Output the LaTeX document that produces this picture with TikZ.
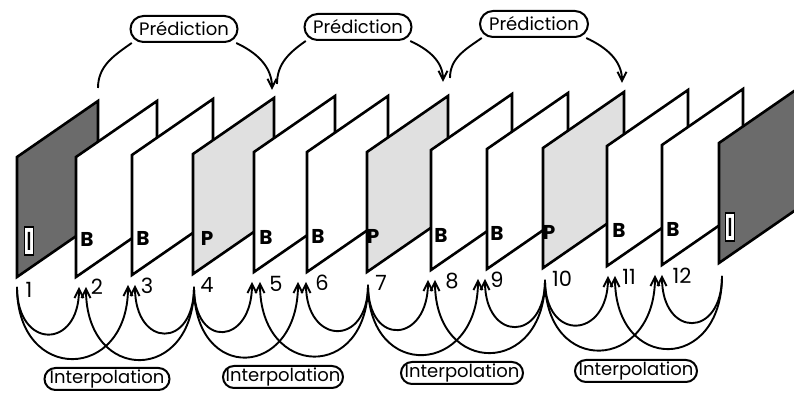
\documentclass[tikz,border=0pt]{standalone}
\usepackage{fontspec}
\setmainfont{Poppins}
\usetikzlibrary{arrows.meta}
\definecolor{iframe}{gray}{0.42}
\definecolor{pframe}{gray}{0.88}
\tikzset{
  frame/.style={draw=black, line width=1.3pt, line join=miter},
  pill/.style={draw, line width=1pt, inner sep=0pt, font=\fontsize{9}{10}\selectfont},
  arc/.style={line width=0.95pt},
  arr/.style={arc, -{Straight Barb[length=4.5pt,width=4.5pt]}},
  lab/.style={font=\bfseries\fontsize{10}{11}\selectfont, inner sep=0pt},
  ibox/.style={draw, fill=white, line width=0.6pt, inner xsep=0.8pt, inner ysep=0pt, minimum height=14pt, font=\fontsize{13}{13}\selectfont},
  num/.style={font=\fontsize{10.5}{11}\selectfont, inner sep=0pt},
}
\begin{document}
\begin{tikzpicture}[x=0.5pt,y=0.5pt]
\useasboundingbox (0,0) rectangle (794,394);
\clip (0,0) rectangle (794,394);
% frames, back to front
\foreach \x/\b/\c in {17/117/iframe, 76/117/white, 132/119/white, 193/120/pframe,
  254/122/white, 307/122/white, 367/122/pframe, 431/124/white, 487/125/white,
  543/126/pframe, 607/128/white, 662/129/white, 719/131/iframe}
  \filldraw[frame, fill=\c] (\x,\b) -- (\x,\b+120) -- (\x+81,\b+176) -- (\x+81,\b+56) -- cycle;
% frame labels
\node[ibox] (l1) at (29,153) {I};
\node[lab] (l2) at (87,155) {B};
\node[lab] (l3) at (143,156) {B};
\node[lab] (l4) at (207,156) {P};
\node[lab] (l5) at (266,157) {B};
\node[lab] (l6) at (318,158) {B};
\node[lab] (l7) at (373,158) {P};
\node[lab] (l8) at (441,159) {B};
\node[lab] (l9) at (497,161) {B};
\node[lab] (l10) at (549,162) {P};
\node[lab] (l11) at (619,164) {B};
\node[lab] (l12) at (673,165) {B};
\node[ibox] (l13) at (730,167) {I};
% numbers
\node[num] (n1) at (29,104) {1};
\node[num] (n2) at (97,107) {2};
\node[num] (n3) at (147,108) {3};
\node[num] (n4) at (207,109) {4};
\node[num] (n5) at (276,110) {5};
\node[num] (n6) at (322,111) {6};
\node[num] (n7) at (381,111) {7};
\node[num] (n8) at (452,113) {8};
\node[num] (n9) at (497,114) {9};
\node[num] (n10) at (562,115) {10};
\node[num] (n11) at (629,117) {11};
\node[num] (n12) at (682,118) {12};
% interpolation anchors and arrow tips
\coordinate (a1) at (17,107);
\coordinate (a4) at (194,107);
\coordinate (a7) at (368,109);
\coordinate (a10) at (545,114);
\coordinate (a13) at (722,118);
\coordinate (t2l) at (79,107);  \coordinate (t2r) at (86,107);
\coordinate (t3l) at (128,109); \coordinate (t3r) at (135,109);
\coordinate (t5l) at (252,112); \coordinate (t5r) at (260,112);
\coordinate (t6l) at (298,112); \coordinate (t6r) at (306,112);
\coordinate (t8l) at (428,114); \coordinate (t8r) at (435,114);
\coordinate (t9l) at (478,115); \coordinate (t9r) at (485,115);
\coordinate (t11l) at (608,118); \coordinate (t11r) at (615,118);
\coordinate (t12l) at (655,119); \coordinate (t12r) at (662,119);
\foreach \s/\e/\d in {a1/t2l/63, a1/t3l/97, a4/t3r/63, a4/t2r/97, a4/t5l/63, a4/t6l/97,
  a7/t6r/63, a7/t5r/97, a7/t8l/63, a7/t9l/97, a10/t9r/63, a10/t8r/97,
  a10/t11l/63, a10/t12l/97, a13/t12r/63, a13/t11r/97}
  \draw[arr] (\s) .. controls +(0,-\d) and +(0,-\d) .. (\e);
% interpolation labels
\node[pill, rounded corners=5.5pt, minimum width=62.5pt, minimum height=11pt] (i1) at (107,15) {Interpolation};
\node[pill, rounded corners=5.5pt, minimum width=60pt, minimum height=11pt] (i2) at (283,17) {Interpolation};
\node[pill, rounded corners=5.5pt, minimum width=61pt, minimum height=11pt] (i3) at (462,21) {Interpolation};
\node[pill, rounded corners=5.5pt, minimum width=61pt, minimum height=11pt] (i4) at (636,23) {Interpolation};
% prediction labels
\node[pill, rounded corners=6.5pt, minimum width=53.5pt, minimum height=13pt] (p1) at (184,365) {Prédiction};
\node[pill, rounded corners=6.5pt, minimum width=53.5pt, minimum height=13pt] (p2) at (358,367) {Prédiction};
\node[pill, rounded corners=6.5pt, minimum width=54pt, minimum height=13pt] (p3) at (534,370) {Prédiction};
\coordinate (s1) at (98,306);  \coordinate (e1) at (272,304);
\coordinate (s2) at (277,310); \coordinate (e2) at (443,312);
\coordinate (s3) at (450,316); \coordinate (e3) at (622,311);
\draw[arc] (s1) to[out=90,in=215] (p1.195);
\draw[arr] (p1.-15) to[out=-25,in=90] (e1);
\draw[arc] (s2) to[out=90,in=215] (p2.195);
\draw[arr] (p2.-15) to[out=-25,in=90] (e2);
\draw[arc] (s3) to[out=90,in=215] (p3.195);
\draw[arr] (p3.-15) to[out=-25,in=90] (e3);
\end{tikzpicture}
\end{document}
